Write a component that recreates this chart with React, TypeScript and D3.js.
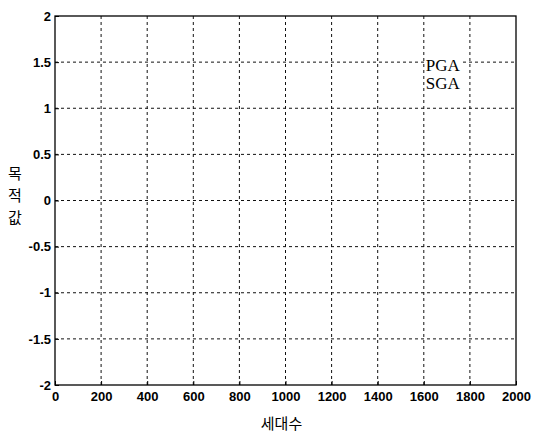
import React, { useEffect, useRef } from "react";
import * as d3 from "d3";

const xTicks = [0, 200, 400, 600, 800, 1000, 1200, 1400, 1600, 1800, 2000];
const yTicks = [-2, -1.5, -1, -0.5, 0, 0.5, 1, 1.5, 2];
const legendNames = ["PGA", "SGA"];
const yLabelChars = ["목", "적", "값"];
const xLabel = "세대수";

const W = 537;
const H = 432;
const margin = { top: 16, right: 21, bottom: 47, left: 55 };

const App = () => {
  const svgRef = useRef<SVGSVGElement>(null);

  useEffect(() => {
    const svg = d3.select(svgRef.current);
    svg.selectAll("*").remove();

    const x = d3.scaleLinear().domain([0, 2000]).range([margin.left, W - margin.right]);
    const y = d3.scaleLinear().domain([-2, 2]).range([H - margin.bottom, margin.top]);

    const g = svg.append("g");

    // grid
    g.selectAll(".vgrid")
      .data(xTicks.slice(1, -1))
      .join("line")
      .attr("x1", (d) => x(d))
      .attr("x2", (d) => x(d))
      .attr("y1", y(2))
      .attr("y2", y(-2))
      .attr("stroke", "#111")
      .attr("stroke-width", 1)
      .attr("stroke-dasharray", "3,3");
    g.selectAll(".hgrid")
      .data(yTicks.slice(1, -1))
      .join("line")
      .attr("x1", x(0))
      .attr("x2", x(2000))
      .attr("y1", (d) => y(d))
      .attr("y2", (d) => y(d))
      .attr("stroke", "#111")
      .attr("stroke-width", 1)
      .attr("stroke-dasharray", "3,3");

    // box
    g.append("rect")
      .attr("x", x(0))
      .attr("y", y(2))
      .attr("width", x(2000) - x(0))
      .attr("height", y(-2) - y(2))
      .attr("fill", "none")
      .attr("stroke", "#000")
      .attr("stroke-width", 1.3);

    const xAxis = d3.axisBottom(x).tickValues(xTicks).tickSize(-4).tickPadding(7).tickFormat(d3.format("d"));
    const gx = g.append("g").attr("transform", `translate(0,${y(-2)})`).call(xAxis);
    const yAxis = d3.axisLeft(y).tickValues(yTicks).tickSize(-4).tickPadding(4).tickFormat((d) => String(d));
    const gy = g.append("g").attr("transform", `translate(${x(0)},0)`).call(yAxis);

    [gx, gy].forEach((a) => {
      a.select(".domain").remove();
      a.selectAll("line").attr("stroke", "#000");
      a.selectAll("text")
        .attr("fill", "#000")
        .style("font-family", "Liberation Sans, Arial, sans-serif")
        .style("font-size", "13px")
        .style("font-weight", "bold");
    });

    // legend (opaque, no border)
    const leg = g.append("g");
    const legTexts = leg
      .selectAll("text")
      .data(legendNames)
      .join("text")
      .attr("x", x(1600) + 2)
      .attr("y", (d, i) => y(1.5) + 9 + i * 18)
      .text((d) => d)
      .style("font-family", "Liberation Serif, Times New Roman, serif")
      .style("font-size", "17px")
      .attr("fill", "#000");
    const bb = (leg.node() as SVGGElement).getBBox();
    leg.insert("rect", "text")
      .attr("x", x(1600) + 1.5)
      .attr("y", bb.y + 2)
      .attr("width", bb.width + 1)
      .attr("height", bb.height - 3)
      .attr("fill", "#fff");
    legTexts.raise();

    // y label
    g.selectAll(".ylab")
      .data(yLabelChars)
      .join("text")
      .attr("x", 15)
      .attr("y", (d, i) => 179 + i * 22)
      .attr("text-anchor", "middle")
      .text((d) => d)
      .style("font-family", "Noto Sans CJK KR, sans-serif")
      .style("font-size", "15px")
      .attr("fill", "#000");

    g.append("text")
      .attr("x", (x(0) + x(2000)) / 2 - 4)
      .attr("y", 429)
      .attr("text-anchor", "middle")
      .text(xLabel)
      .style("font-family", "Noto Sans CJK KR, sans-serif")
      .style("font-size", "15px")
      .attr("fill", "#000");
  }, []);

  return (
    <svg
      ref={svgRef}
      width={W}
      height={H}
      style={{ position: "absolute", left: 0, top: 0, background: "#fff" }}
    />
  );
};

export default App;
